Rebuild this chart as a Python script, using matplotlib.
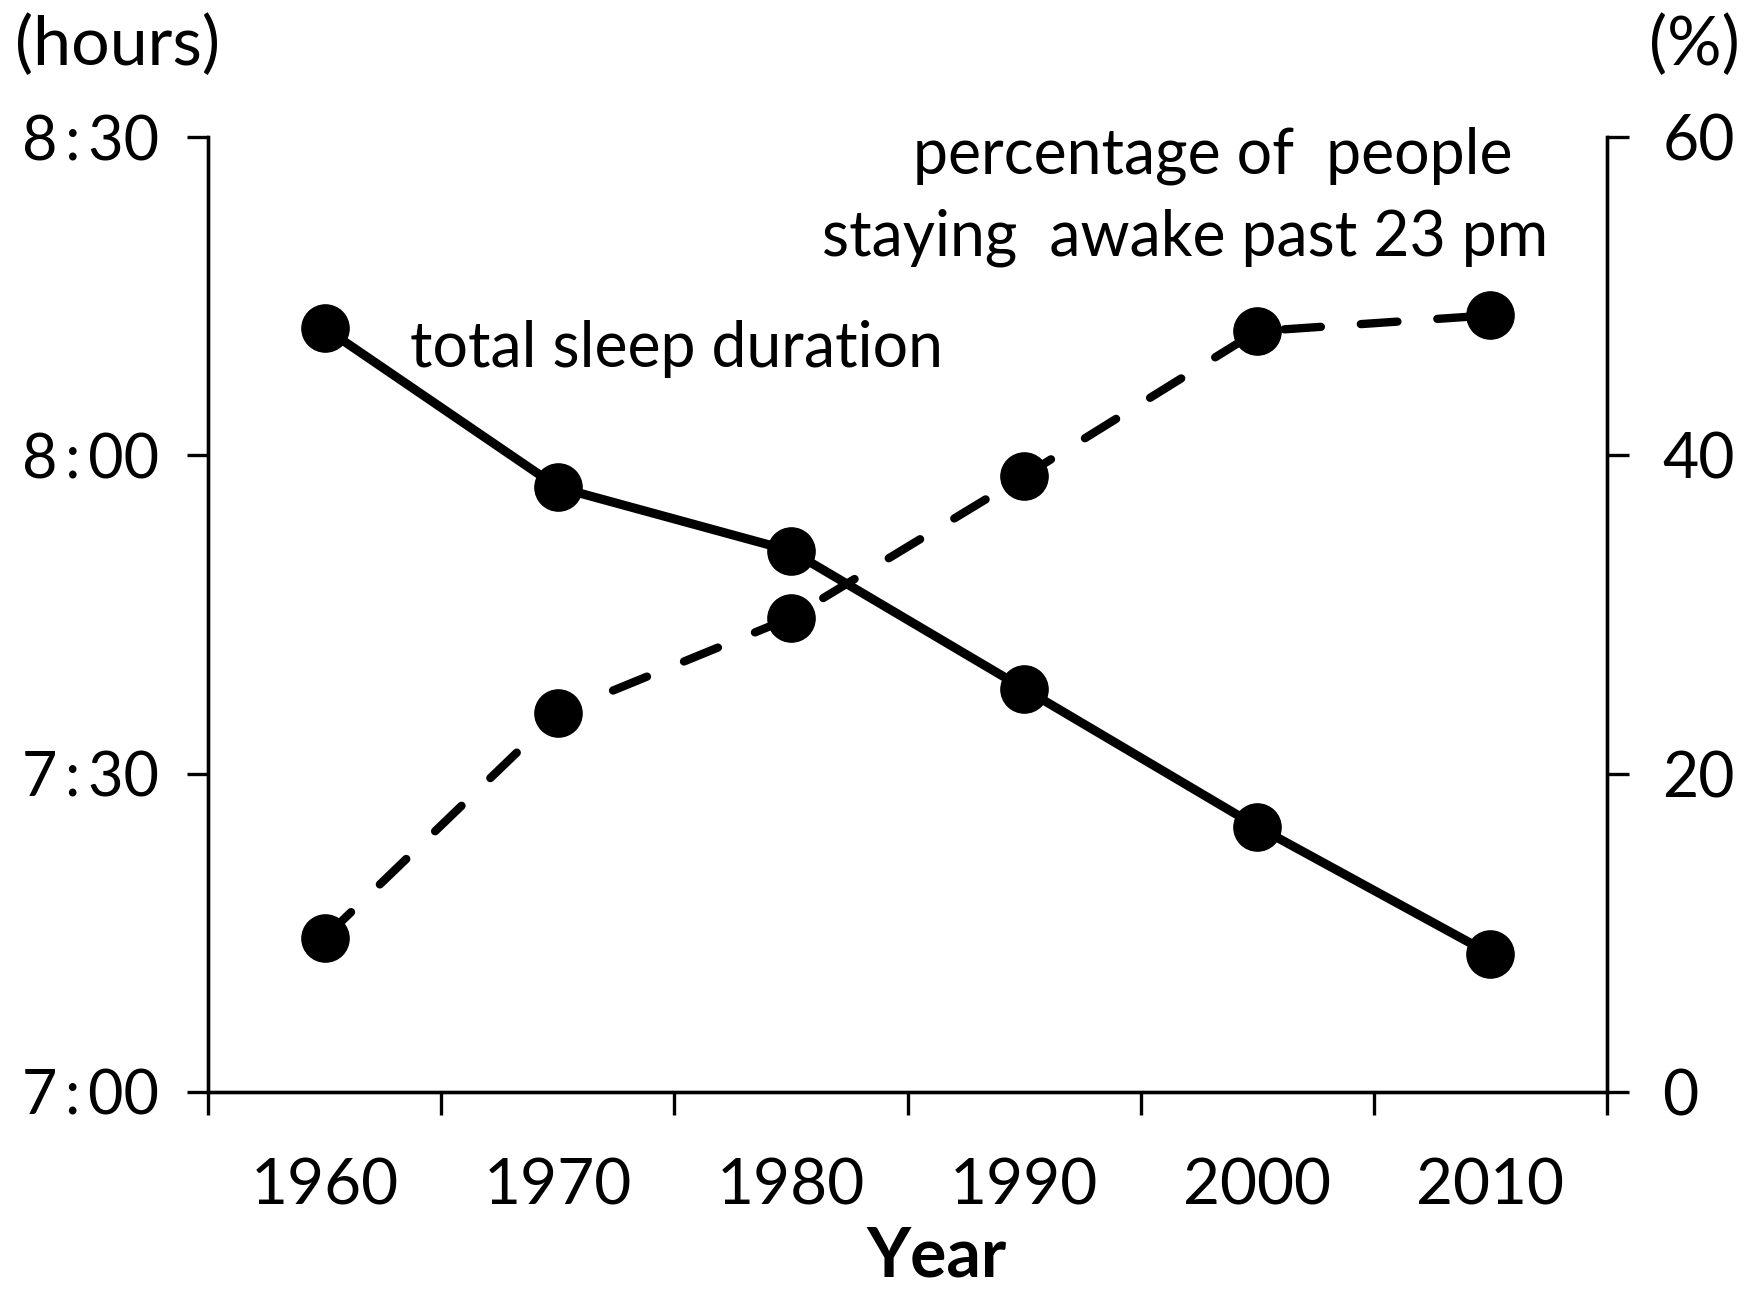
import matplotlib
matplotlib.use("Agg")
import matplotlib.pyplot as plt
from matplotlib.ticker import FixedLocator, FuncFormatter, NullFormatter

plt.rcParams['font.family'] = ['Lato', 'DejaVu Sans']

# data
years = ["1960", "1970", "1980", "1990", "2000", "2010"]
# total sleep duration in minutes (h*60+m)
sleep_minutes = [8*60+12, 7*60+57, 7*60+51, 7*60+38, 7*60+25, 7*60+13]
# percentage of people staying awake past 23 pm
late_pct = [9.7, 23.8, 29.8, 38.7, 47.8, 48.8]
sleep_ticks = [7*60, 7*60+30, 8*60, 8*60+30]
pct_ticks = [0, 20, 40, 60]

W, H = 1760, 1295
fig = plt.figure(figsize=(W/100, H/100), dpi=100)
ax = fig.add_axes([0.1182, 0.1568, 0.9131-0.1182, 0.8942-0.1568])
ax2 = ax.twinx()

x = list(range(len(years)))
ax.plot(x, sleep_minutes, color='black', lw=6.5, marker='o', ms=34,
        solid_capstyle='round', zorder=3, clip_on=False)
ax2.plot(x, late_pct, color='black', lw=6.0, marker='o', ms=34,
         linestyle=(0, (4.4, 4.8)), dash_capstyle='round', zorder=3, clip_on=False)

ax.set_xlim(-0.5, len(years)-0.5)
ax.set_ylim(sleep_ticks[0], sleep_ticks[-1])
ax2.set_ylim(pct_ticks[0], pct_ticks[-1])

# x ticks at category boundaries, labels at centres
ax.xaxis.set_major_locator(FixedLocator([i-0.5 for i in range(len(years)+1)]))
ax.xaxis.set_major_formatter(NullFormatter())
ax.xaxis.set_minor_locator(FixedLocator(x))
ax.set_xticklabels(years, minor=True)
ax.tick_params(axis='x', which='minor', length=0, pad=47, labelsize=46)
ax.tick_params(axis='x', which='major', direction='out', length=16.5, width=2.4)

ax.yaxis.set_major_locator(FixedLocator(sleep_ticks))
ax.yaxis.set_major_formatter(FuncFormatter(
    lambda v, p: f"{int(v)//60}\u2009:\u2009{int(v)%60:02d}"))
ax.tick_params(axis='y', direction='out', length=15, width=2.4, labelsize=44, pad=20)

ax2.yaxis.set_major_locator(FixedLocator(pct_ticks))
ax2.tick_params(axis='y', direction='out', length=16, width=2.4, labelsize=45, pad=24)

for a in (ax, ax2):
    a.spines['top'].set_visible(False)
    for s in ('left', 'right', 'bottom'):
        a.spines[s].set_linewidth(2.4)

fig.text(0.0085, 0.9498, "(hours)", fontsize=49, ha='left', va='baseline')
fig.text(0.9886, 0.9498, "(%)", fontsize=49, ha='right', va='baseline')
fig.text(0.532, 0.014, "Year", fontsize=49, fontweight='bold', ha='center', va='baseline')

fig.text(0.233, 0.7166, "total sleep duration", fontsize=45, ha='left', va='baseline')
fig.text(0.5188, 0.8664, "percentage of  people", fontsize=45, ha='left', va='baseline')
fig.text(0.467, 0.803, "staying  awake past 23 pm", fontsize=45, ha='left', va='baseline')

fig.savefig("out.png", dpi=100, facecolor='white')
